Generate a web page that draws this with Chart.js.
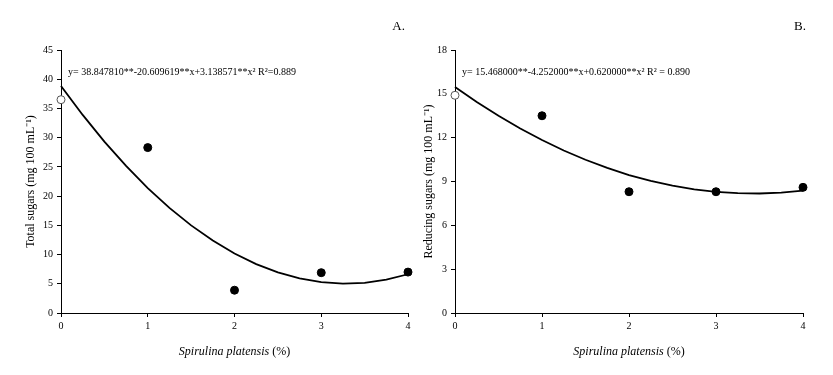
<!DOCTYPE html>
<html><head><meta charset="utf-8">
<script src="https://cdn.jsdelivr.net/npm/chart.js@4/dist/chart.umd.min.js"></script>
<style>
html,body{margin:0;padding:0;background:#fff;}
#wrap{position:relative;width:833px;height:375px;overflow:hidden;}
.box{position:absolute;top:0;height:375px;}
</style></head><body>
<div id="wrap">
<div class="box" id="boxA" style="left:0;width:420px;"><canvas id="cA"></canvas></div>
<div class="box" id="boxB" style="left:415px;width:418px;"><canvas id="cB"></canvas></div>
</div>
<script>
// ---- data ----
const doseLevels = [0, 1, 2, 3, 4];
const totalSugars = [36.5, 28.3, 3.9, 6.9, 7.0];
const reducingSugars = [14.9, 13.5, 8.3, 8.3, 8.6];
const fitX = [0, 0.25, 0.5, 0.75, 1, 1.25, 1.5, 1.75, 2, 2.25, 2.5, 2.75, 3, 3.25, 3.5, 3.75, 4];
const totalFitY = [38.85, 33.89, 29.33, 25.16, 21.38, 17.99, 14.99, 12.39, 10.18, 8.37, 6.94, 5.91, 5.27, 5.02, 5.16, 5.70, 6.63];
const reducingFitY = [15.47, 14.44, 13.50, 12.63, 11.84, 11.12, 10.49, 9.93, 9.44, 9.04, 8.71, 8.46, 8.29, 8.20, 8.18, 8.24, 8.38];
const xTicks = [0, 1, 2, 3, 4];
const totalTicks = [0, 5, 10, 15, 20, 25, 30, 35, 40, 45];
const reducingTicks = [0, 3, 6, 9, 12, 15, 18];

const FONT = '"Liberation Serif", "Times New Roman", serif';

function pairs(xs, ys){ return xs.map((x,i)=>({x:x, y:ys[i]})); }

function makeChart(id, cfg){
  const overlay = {
    id:'overlay',
    afterDraw(chart){
      const c = chart.ctx, a = chart.chartArea;
      c.save();
      c.fillStyle = '#000';
      c.font = '10px ' + FONT;
      c.textBaseline = 'middle';
      c.textAlign = 'left';
      c.fillText(cfg.eq, a.left + cfg.eqDx, a.top + 22);
      c.font = '13px ' + FONT;
      c.textAlign = 'right';
      c.fillText(cfg.panel, a.right + cfg.panelDx, a.top - 23);
      const t1 = 'Spirulina platensis', t2 = ' (%)';
      c.font = 'italic 12px ' + FONT;
      const w1 = c.measureText(t1).width;
      c.font = '12px ' + FONT;
      const w2 = c.measureText(t2).width;
      const cx = (a.left + a.right)/2;
      const x0 = cx - (w1+w2)/2;
      const y0 = a.bottom + 39;
      c.textAlign = 'left';
      c.font = 'italic 12px ' + FONT;
      c.fillText(t1, x0, y0);
      c.font = '12px ' + FONT;
      c.fillText(t2, x0 + w1, y0);
      c.restore();
    }
  };
  return new Chart(document.getElementById(id), {
    type:'scatter',
    data:{ datasets:[
      { data: pairs(fitX, cfg.fitY), showLine:true, borderColor:'#000', borderWidth:1.8,
        pointRadius:0, tension:0, fill:false, order:1, clip:false },
      { data: pairs(doseLevels, cfg.obs), showLine:false, clip:false,
        pointRadius:4, pointHoverRadius:4,
        pointBackgroundColor: ctx => ctx.dataIndex === 0 ? '#fff' : '#000',
        pointBorderColor: ctx => ctx.dataIndex === 0 ? '#555' : '#000',
        pointBorderWidth: 1, order:0 }
    ]},
    options:{
      responsive:true, maintainAspectRatio:false, animation:false,
      layout:{ padding:{ left:cfg.padL, right:cfg.padR, top:50, bottom:0 } },
      plugins:{ legend:{display:false}, tooltip:{enabled:false} },
      scales:{
        x:{ type:'linear', min:0, max:4,
          afterBuildTicks: s => { s.ticks = xTicks.map(v=>({value:v})); },
          afterFit: s => { s.height = 62; },
          ticks:{ color:'#000', font:{family:FONT, size:10}, padding:3, maxRotation:0 },
          grid:{ drawOnChartArea:false, drawTicks:true, tickLength:4, color:'#000' },
          border:{ color:'#000', width:1 } },
        y:{ type:'linear', min:cfg.yTicks[0], max:cfg.yTicks[cfg.yTicks.length-1],
          afterBuildTicks: s => { s.ticks = cfg.yTicks.map(v=>({value:v})); },
          afterFit: s => { s.width = cfg.yW; },
          ticks:{ color:'#000', font:{family:FONT, size:10}, padding:4 },
          grid:{ drawOnChartArea:false, drawTicks:true, tickLength:4, color:'#000' },
          border:{ color:'#000', width:1 },
          title:{ display:true, text:cfg.yTitle, color:'#000', font:{family:FONT, size:12}, padding:{top:0,bottom:0} } }
      }
    },
    plugins:[overlay]
  });
}

makeChart('cA', {
  obs: totalSugars, fitY: totalFitY, yTicks: totalTicks,
  yTitle: 'Total sugars (mg 100 mL\u207B\u00B9)',
  eq: 'y= 38.847810**-20.609619**x+3.138571**x\u00B2 R\u00B2=0.889',
  panel: 'A.', panelDx: -3, eqDx: 7,
  padL: 24, yW: 37, padR: 12
});
makeChart('cB', {
  obs: reducingSugars, fitY: reducingFitY, yTicks: reducingTicks,
  yTitle: 'Reducing sugars (mg 100 mL\u207B\u00B9)',
  eq: 'y= 15.468000**-4.252000**x+0.620000**x\u00B2 R\u00B2 = 0.890',
  panel: 'B.', panelDx: 3, eqDx: 7,
  padL: 7, yW: 33, padR: 30
});
</script>
</body></html>
